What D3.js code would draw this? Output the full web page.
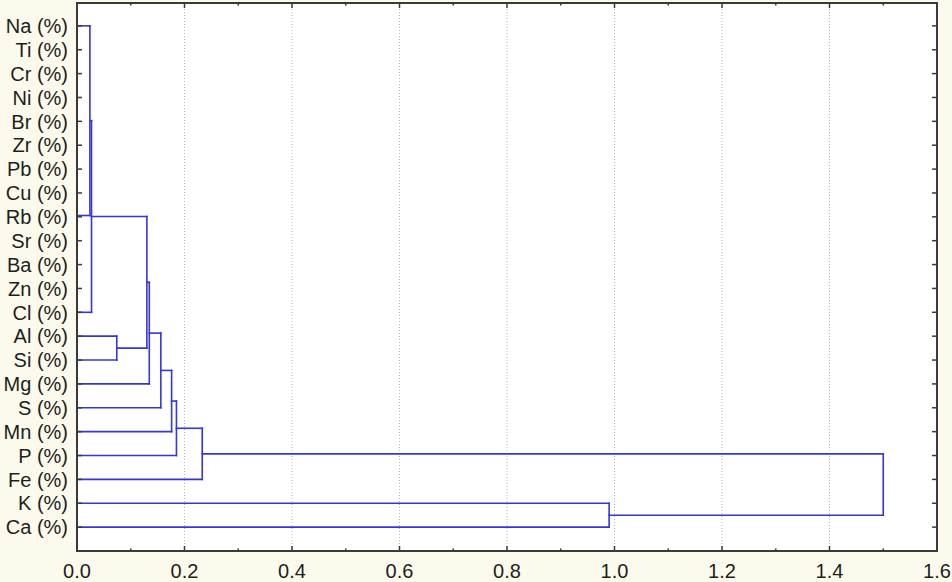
<!DOCTYPE html>
<html>
<head>
<meta charset="utf-8">
<script src="https://cdn.jsdelivr.net/npm/d3@7"></script>
<style>
  html, body { margin: 0; padding: 0; background: #fcfaec; }
  svg { display: block; }
</style>
</head>
<body>
<svg id="chart" width="952" height="582"></svg>
<script>
// ---- data ----
const leaves = ["Na","Ti","Cr","Ni","Br","Zr","Pb","Cu","Rb","Sr","Ba","Zn","Cl","Al","Si","Mg","S","Mn","P","Fe","K","Ca"];
const leafLabels = leaves.map(d => d + " (%)");
// merges: leaf names or "#k" for k-th earlier merge
const mergeA = ["Ti","#0","#1","#2","#3","#4","Sr","Rb","#7","#5","Na","#10","Al","#11","#13","#14","#15","#16","#17","K","#18"];
const mergeB = ["Cr","Ni","Br","Zr","Pb","Cu","Ba","#6","Zn","#8","#9","Cl","Si","#12","Mg","S","Mn","P","Fe","Ca","#19"];
const mergeHeight = [0,0,0,0,0,0,0,0,0,0,0.024,0.027,0.074,0.130,0.1345,0.156,0.176,0.185,0.233,0.99,1.50];
const xTicks = [0,0.2,0.4,0.6,0.8,1.0,1.2,1.4,1.6];
const xMinor = [0.1,0.3,0.5,0.7,0.9,1.1,1.3,1.5];

// ---- layout ----
const L = 77, R = 937, T = 3, B = 551;
const svg = d3.select("#chart");
const x = d3.scaleLinear().domain([0, 1.6]).range([L, R]);
const y = d3.scalePoint().domain(leaves).range([T - 1, B]).padding(1);

svg.append("rect").attr("x", L).attr("y", T).attr("width", R - L).attr("height", B - T).attr("fill", "#ffffff");

// grid
svg.append("g").selectAll("line").data(xTicks.slice(1, -1)).join("line")
  .attr("x1", d => x(d)).attr("x2", d => x(d)).attr("y1", T).attr("y2", B)
  .attr("stroke", "#b8b8b8").attr("stroke-width", 1).attr("stroke-dasharray", "1,2");

// dendrogram
const nodes = [];
function get(ref) {
  if (ref.startsWith("#")) return nodes[+ref.slice(1)];
  return { y: y(ref), h: 0 };
}
const lines = [];
mergeA.forEach((a, i) => {
  const na = get(a), nb = get(mergeB[i]), h = mergeHeight[i];
  lines.push([x(na.h), na.y, x(h), na.y]);
  lines.push([x(nb.h), nb.y, x(h), nb.y]);
  lines.push([x(h), na.y, x(h), nb.y]);
  nodes.push({ y: (na.y + nb.y) / 2, h: h });
});
svg.append("g").selectAll("line").data(lines.filter(l => l[0] !== l[2] || l[1] !== l[3])).join("line")
  .attr("x1", d => d[0]).attr("y1", d => d[1]).attr("x2", d => d[2]).attr("y2", d => d[3])
  .attr("stroke", "#3636d4").attr("stroke-width", 1.6).attr("stroke-linecap", "square");

// frame & ticks
const axisColor = "#3a3a3a";
const tk = svg.append("g").attr("stroke", axisColor);
leaves.forEach(d => {
  tk.append("line").attr("x1", L).attr("x2", L + 5).attr("y1", y(d)).attr("y2", y(d)).attr("stroke-width", 1.5);
  tk.append("line").attr("x1", R - 5).attr("x2", R).attr("y1", y(d)).attr("y2", y(d)).attr("stroke-width", 1.5);
});
xTicks.forEach(d => {
  tk.append("line").attr("x1", x(d)).attr("x2", x(d)).attr("y1", B).attr("y2", B - 5).attr("stroke-width", 1.5);
  tk.append("line").attr("x1", x(d)).attr("x2", x(d)).attr("y1", T).attr("y2", T + 5).attr("stroke-width", 1.5);
});
xMinor.forEach(d => {
  tk.append("line").attr("x1", x(d)).attr("x2", x(d)).attr("y1", B).attr("y2", B - 2.5).attr("stroke-width", 1.5);
  tk.append("line").attr("x1", x(d)).attr("x2", x(d)).attr("y1", T).attr("y2", T + 2.5).attr("stroke-width", 1.5);
});
svg.append("rect").attr("x", L).attr("y", T).attr("width", R - L).attr("height", B - T)
  .attr("fill", "none").attr("stroke", axisColor).attr("stroke-width", 2);

// labels
svg.append("g").selectAll("text").data(leaves).join("text")
  .attr("x", 68).attr("y", d => y(d)).attr("dy", "0.36em")
  .attr("text-anchor", "end")
  .attr("font-family", "Liberation Sans, Arial, sans-serif").attr("font-size", 20)
  .attr("fill", "#1e1e1e").text((d, i) => leafLabels[i]);

svg.append("g").selectAll("text").data(xTicks).join("text")
  .attr("x", d => x(d)).attr("y", 578)
  .attr("text-anchor", "middle")
  .attr("font-family", "Liberation Sans, Arial, sans-serif").attr("font-size", 20)
  .attr("fill", "#1e1e1e").text(d => d.toFixed(1));
</script>
</body>
</html>
